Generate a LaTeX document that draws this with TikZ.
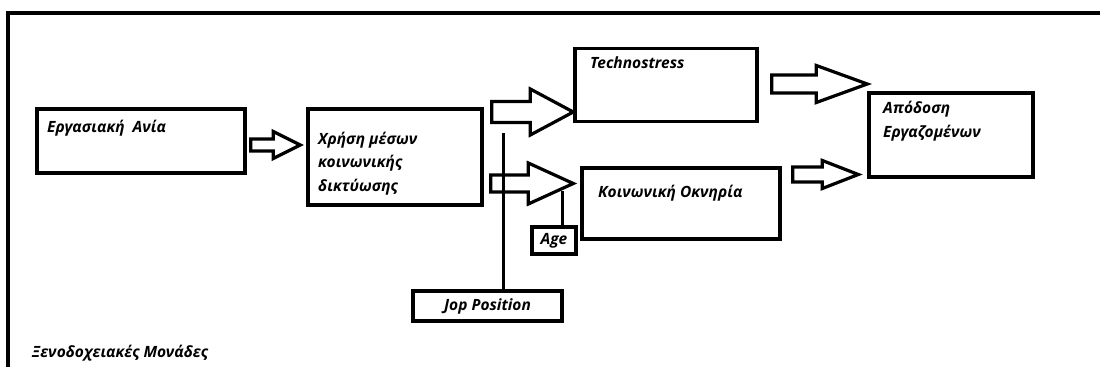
\documentclass[tikz,border=0pt]{standalone}
\usepackage{fontspec}
\setmainfont{Open Sans}
\usetikzlibrary{calc}
\tikzset{
  box/.style={draw, line width=3.4pt, inner sep=0pt},
  txt/.style={inner sep=0pt, font=\fontsize{15.5}{23.5}\selectfont\bfseries\itshape, align=left},
  blk/.style={draw, line width=3.2pt, fill=white, line join=miter},
  thin/.style={line width=3pt}
}
% block arrow: start, end (x only), shaft half, head half, head length
\newcommand\barrow[5]{%
  \draw[blk] let \p1=#1, \p2=#2 in
    (\x1,{\y1+#3pt}) -- ({\x2-#5pt},{\y1+#3pt}) -- ({\x2-#5pt},{\y1+#4pt})
    -- (\x2,\y1) -- ({\x2-#5pt},{\y1-#4pt}) -- ({\x2-#5pt},{\y1-#3pt})
    -- (\x1,{\y1-#3pt}) -- cycle;}
\begin{document}
\begin{tikzpicture}[x=1pt,y=-1pt]
\useasboundingbox (0,0) rectangle (1100,367);
\draw[line width=3.6pt] (8,367) -- (8,13) -- (1100,13);
% boxes
\node[box, minimum width=208pt, minimum height=64pt] (ania) at (141,141) {};
\node[box, minimum width=174pt, minimum height=96pt] (xrisi) at (395,157) {};
\node[box, minimum width=182pt, minimum height=73pt] (techno) at (666,85) {};
\node[box, minimum width=198pt, minimum height=71pt] (okniria) at (681,203.5) {};
\node[box, minimum width=164pt, minimum height=84pt] (apodosi) at (951,135) {};
\node[box, minimum width=44pt, minimum height=27pt, txt] (age) at (554,240.5) {Age};
\node[box, minimum width=149pt, minimum height=30pt, txt] (jop) at (487.5,306) {Jop Position};
% texts
\node[txt, anchor=west] (ania-t) at (47,128) {Εργασιακή~ Ανία};
\node[txt, anchor=north west] (xrisi-t) at (318,131.5) {Χρήση μέσων\\κοινωνικής\\δικτύωσης};
\node[txt, anchor=north west] (techno-t) at (590,57) {Technostress};
\node[txt, anchor=west] (okniria-t) at (598,193) {Κοινωνική Οκνηρία};
\node[txt, anchor=north west] (apodosi-t) at (883,101) {Απόδοση\\Εργαζομένων};
\node[txt, anchor=west] (monades) at (32,353) {Ξενοδοχειακές Μονάδες};
% arrows
\barrow{([shift={(4pt,-4pt)}]ania.east)}{([xshift=-6pt]xrisi.west)}{6}{13.5}{27}
\barrow{([shift={(8pt,45pt)}]xrisi.east)}{(techno.west)}{10.5}{23}{43}
\barrow{([shift={(7pt,-26.5pt)}]xrisi.east)}{([xshift=-7pt]okniria.west)}{8.5}{20.5}{45}
\barrow{([shift={(13pt,1pt)}]techno.east)}{(apodosi.west)}{9}{18.5}{51}
\barrow{([shift={(11pt,29pt)}]okniria.east)}{([xshift=-9pt]apodosi.west)}{7.5}{14}{36}
% moderator lines
\coordinate (jtop) at (503,133);
\coordinate (atop) at (562,191);
\draw[thin] (jtop) -- (jtop |- jop.north);
\draw[thin] (atop) -- (atop |- age.north);
\end{tikzpicture}
\end{document}
